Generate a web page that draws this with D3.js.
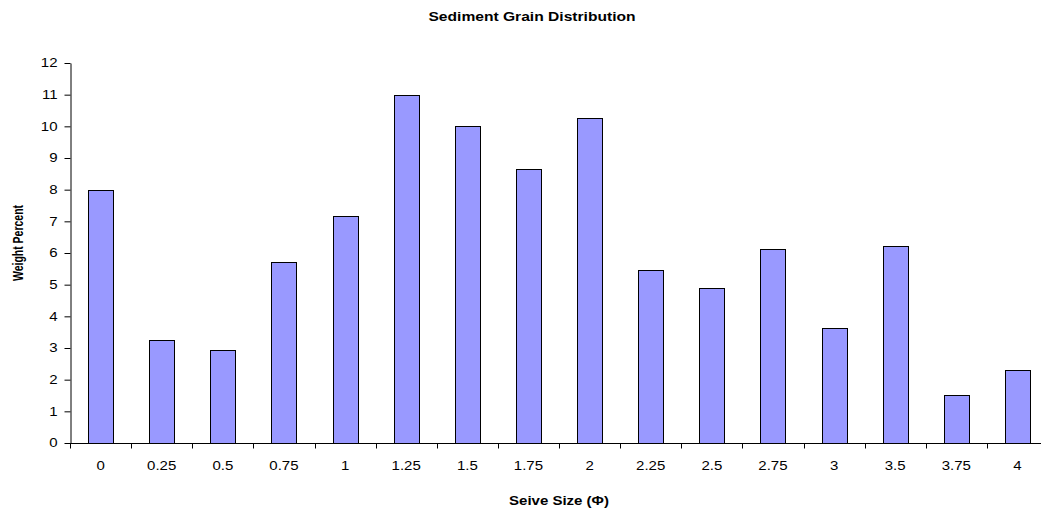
<!DOCTYPE html>
<html>
<head>
<meta charset="utf-8">
<script src="https://cdn.jsdelivr.net/npm/d3@7"></script>
<style>
  body { margin: 0; background: #fff; }
  svg { display: block; font-family: "Liberation Sans", Arial, sans-serif; }
  .bar { fill: #9999ff; stroke: #000; stroke-width: 1; }
  .axis text { font-size: 12px; fill: #000; }
  .axis path, .axis line { stroke: #000; }
</style>
</head>
<body>
<div id="chart"></div>
<script>
// sieve sizes (phi) and weight percent
var sieveSizes = ["0", "0.25", "0.5", "0.75", "1", "1.25", "1.5", "1.75", "2",
                  "2.25", "2.5", "2.75", "3", "3.5", "3.75", "4"];
var weightPercent = [8.0, 3.25, 2.94, 5.73, 7.16, 11.0, 10.0, 8.65, 10.27,
                     5.45, 4.88, 6.14, 3.64, 6.23, 1.52, 2.29];
var yTicks = [0, 1, 2, 3, 4, 5, 6, 7, 8, 9, 10, 11, 12];

(function() {
var W = 1041, H = 514;
// the original picture is stretched sideways, so text gets widened a bit
var stretch = 1.25;
// plot area runs a bit past the right edge, as in the original
var margin = {top: 63, left: 70},
    plotW = 978,
    plotH = 380;

var svg = d3.select("#chart").append("svg")
    .attr("width", W)
    .attr("height", H);

var g = svg.append("g")
    .attr("transform", "translate(" + margin.left + "," + margin.top + ")");

var x = d3.scaleBand()
    .domain(sieveSizes)
    .range([0, plotW])
    .paddingInner(0.59)
    .paddingOuter(0.295);

var y = d3.scaleLinear().domain([0, 12]).range([plotH, 0]);

// bars
g.selectAll(".bar")
    .data(sieveSizes)
  .enter().append("rect")
    .attr("class", "bar")
    .attr("x", function(d) { return Math.round(x(d)) + 0.5; })
    .attr("y", function(d, i) { return Math.round(y(weightPercent[i])) + 0.5; })
    .attr("width", Math.round(x.bandwidth()))
    .attr("height", function(d, i) { return Math.round(plotH - y(weightPercent[i])); });

// y axis
var yAxis = g.append("g")
    .attr("class", "axis")
    .attr("transform", "translate(0.5,0)")
    .call(d3.axisLeft(y).tickValues(yTicks).tickSize(6).tickSizeOuter(0).tickPadding(4.4));

yAxis.selectAll("text")
    .attr("transform", "scale(" + stretch + ",1)");

// x axis: ticks sit between categories, so draw line + ticks by hand from the scale
var xAxis = g.append("g")
    .attr("class", "axis")
    .attr("transform", "translate(0," + (plotH + 0.5) + ")");

xAxis.append("line")
    .attr("x1", 0).attr("x2", plotW)
    .attr("stroke", "#000");

var step = x.step();
xAxis.selectAll(".xtick")
    .data(sieveSizes)
  .enter().append("line")
    .attr("class", "xtick")
    .attr("x1", function(d) { return Math.round(x(d) + x.bandwidth() / 2 - step / 2) + 0.5; })
    .attr("x2", function(d) { return Math.round(x(d) + x.bandwidth() / 2 - step / 2) + 0.5; })
    .attr("y1", 0).attr("y2", 5)
    .attr("stroke", "#000");

xAxis.selectAll(".xlabel")
    .data(sieveSizes)
  .enter().append("text")
    .attr("class", "xlabel")
    .attr("transform", function(d) {
      return "translate(" + (x(d) + x.bandwidth() / 2) + ",26) scale(" + stretch + ",1)";
    })
    .attr("text-anchor", "middle")
    .text(function(d) { return d; });

// title and axis titles
svg.append("text")
    .attr("transform", "translate(532,21) scale(" + stretch + ",1)")
    .attr("text-anchor", "middle")
    .style("font-size", "12.5px")
    .style("font-weight", "bold")
    .text("Sediment Grain Distribution");

svg.append("text")
    .attr("transform", "translate(" + (margin.left + plotW / 2) + ",505) scale(" + stretch + ",1)")
    .attr("text-anchor", "middle")
    .style("font-size", "12px")
    .style("font-weight", "bold")
    .text("Seive Size (\u03A6)");

svg.append("text")
    .attr("transform", "translate(23,243) scale(" + (stretch * 1.1) + ",1) rotate(-90)")
    .attr("text-anchor", "middle")
    .style("font-size", "10.5px")
    .style("font-weight", "bold")
    .text("Weight Percent");
})();
</script>
</body>
</html>
